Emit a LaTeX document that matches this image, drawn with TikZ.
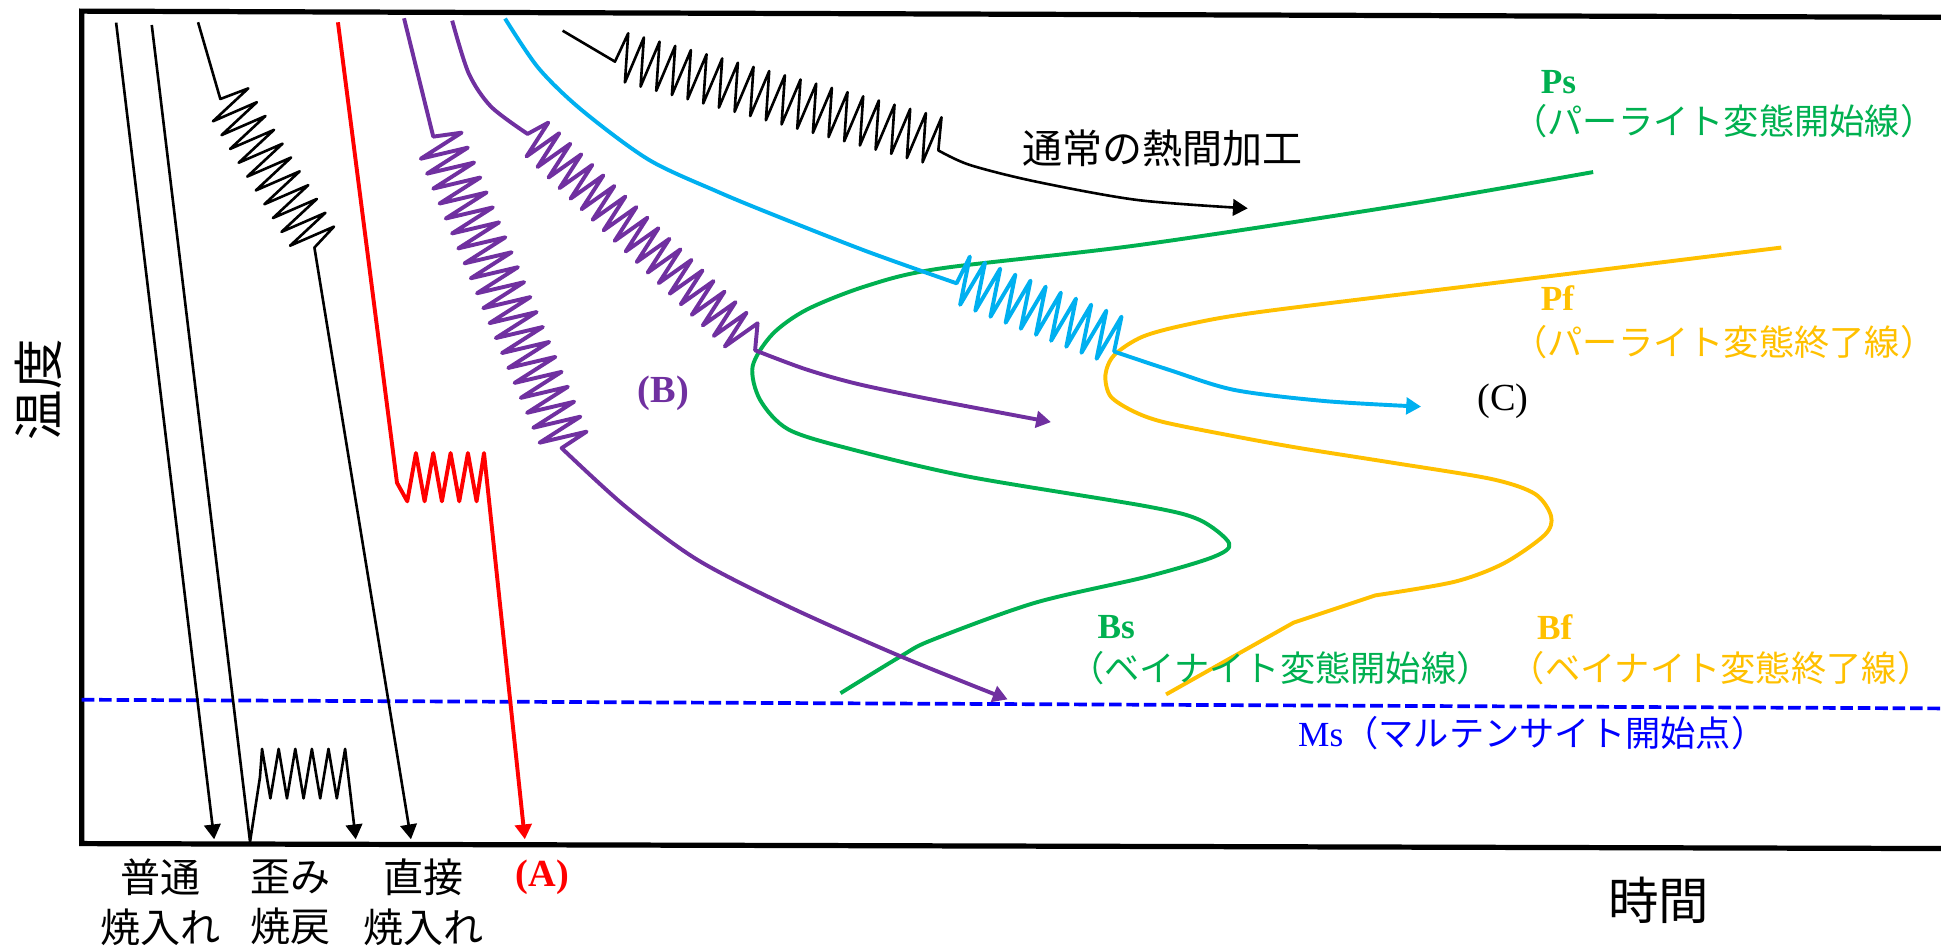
\documentclass[tikz,border=0pt]{standalone}
\usepackage{fontspec}
\setmainfont{Liberation Serif}
\newfontfamily\jp{Noto Sans CJK JP}
\definecolor{pstart}{RGB}{0, 176, 80}
\definecolor{pfinish}{RGB}{255, 192, 0}
\definecolor{hotwork}{RGB}{0, 176, 240}
\definecolor{ausform}{RGB}{112, 48, 160}
\usetikzlibrary{arrows.meta, calc}

% zigzag: first peak, last peak, number of teeth, drop to the other row
\newcommand{\zigs}[4]{-- (#1) \foreach \k [evaluate=\k as \zp using (\k-0.5)/#3, evaluate=\k as \zq using \k/#3] in {1,...,#3} { -- ($(#1)!\zp!(#2)+(#4)$) -- ($(#1)!\zq!(#2)$) }}

\tikzset{
  axisline/.style={line width=1.2pt, line join=miter},
  fine/.style={line width=0.6pt},
  route/.style={line width=0.9pt},
  arrowhead/.style={-{Triangle[length=3.4pt,width=3.8pt]}},
  jptext/.style={font=\jp\fontsize{9.2}{11.4}\selectfont, align=center, inner sep=0pt},
  bigtext/.style={font=\jp\fontsize{11.6}{14}\selectfont, inner sep=0pt},
  tag/.style={font=\fontsize{8.8}{10}\selectfont, inner sep=0pt},
  curvename/.style={font=\bfseries\fontsize{8.1}{10}\selectfont, anchor=west, inner sep=0pt},
  curvenote/.style={font=\jp\fontsize{8.1}{10}\selectfont, anchor=west, inner sep=0pt},
}

\begin{document}
\begin{tikzpicture}[x=0.01cm, y=-0.01cm, line join=round]
\useasboundingbox (0,0) rectangle (1568,765);

% axes
\draw[axisline] (1568,14) -- (66,9) -- (66,681.5) -- (1568,685.5);
\node[bigtext, rotate=90] (temp) at (31,315) {温度};
\node[bigtext] (time) at (1340,727) {時間};

% Ms line
\draw[blue, line width=0.85pt, dash pattern=on 2.9pt off 1.1pt] (66,565.3) -- (1568,572.3);
\node[curvenote, blue] (ms) at (1048,592) {{\rmfamily Ms}（マルテンサイト開始点）};

% transformation lines
\draw[route, pstart] plot[smooth] coordinates {(1287,139) (1131,166) (920,198) (759,217) (700,231) (652,250) (624,270) (608,296) (614,323) (637,347) (688,363) (782,385) (926,409) (969,420) (993,439) (980,450) (926,466) (836,487) (753,517) (728,530) (679,560)};
\draw[route, pfinish] plot[smooth] coordinates {(1439,200) (1200,229.5) (1018,252) (960,262) (923,272) (900,287) (893,303) (897,320) (915,332) (940,341) (1000,353) (1050,362) (1126,374) (1205,387) (1240,399) (1253,417) (1248,432) (1215,455) (1175,470) (1111,481)} -- (1045,503) -- (942,561);

\node[curvename, pstart] (ps) at (1244,66) {Ps};
\node[curvenote, pstart] (psnote) at (1221,98) {（パーライト変態開始線）};
\node[curvename, pfinish] (pf) at (1244,241) {Pf};
\node[curvenote, pfinish] (pfnote) at (1221,276) {（パーライト変態終了線）};
\node[curvename, pstart] (bs) at (886,507) {Bs};
\node[curvenote, pstart] (bsnote) at (863,540) {（ベイナイト変態開始線）};
\node[curvename, pfinish] (bf) at (1241,507) {Bf};
\node[curvenote, pfinish] (bfnote) at (1219,540) {（ベイナイト変態終了線）};

% quenching and tempering
\draw[fine, arrowhead] (93.8,18.3) -- (173,678);
\draw[fine, arrowhead] (122.6,20.2) -- (202,680) -- (210,628) \zigs{211.7,605}{278.8,605}{5}{0,40} -- (287.4,678);
\draw[fine, arrowhead] (160,18) -- (178,80) \zigs{200.6,71.4}{269.8,183.1}{10}{-32,21} -- (254,200) -- (332,678);
\draw[route, red, arrowhead] (273,18) -- (320.7,390) \zigs{329,405}{385,405}{4}{0,-39} -- (391,366) -- (424,678);

% ausforming
\draw[route, ausform, arrowhead] (326.4,14.8) -- (350,110.4) \zigs{372.9,107.2}{473.9,348.7}{20}{-35.5,15} -- plot[smooth] coordinates {(453.7,362) (505,409) (563,452) (637,490) (727,530) (814,565)};
\draw[route, ausform, arrowhead] plot[smooth] coordinates {(365.3,16.7) (378.6,59.2) (396.7,86.2) (426.2,108.2)} \zigs{442.9,99.1}{612,261.2}{19}{-22,23} -- plot[smooth] coordinates {(610,283) (650,298) (692,310) (754,323) (849,341)};

% hot working
\draw[route, hotwork, arrowhead] plot[smooth] coordinates {(408,15) (435,55) (470,89) (524,129) (580,155) (626,174) (700,203) (772.8,228.9)} \zigs{783.5,207.3}{906,255.8}{10}{-14,36.5} -- plot[smooth] coordinates {(900,284) (945,299) (997,315) (1070,324) (1148,328.5)};
\draw[fine, arrowhead] (454.5,24.8) -- (496.8,49.8) \zigs{507.5,26.9}{760.6,94.8}{20}{-9,38} -- plot[smooth] coordinates {(758,121.5) (783.5,133.3) (836.7,146.7) (919,161.6) (1008,168.3)};
\node[jptext] (hotnote) at (939,120) {通常の熱間加工};

% labels
\node[jptext] (normalq) at (130,729) {普通\\焼入れ};
\node[jptext] (temper) at (235,729) {歪み\\焼戻};
\node[jptext] (directq) at (342,729) {直接\\焼入れ};
\node[tag, red] (casea) at (438,709) {\bfseries (A)};
\node[tag, ausform] (caseb) at (536,318) {\bfseries (B)};
\node[tag] (casec) at (1214,324) {(C)};
\end{tikzpicture}
\end{document}
